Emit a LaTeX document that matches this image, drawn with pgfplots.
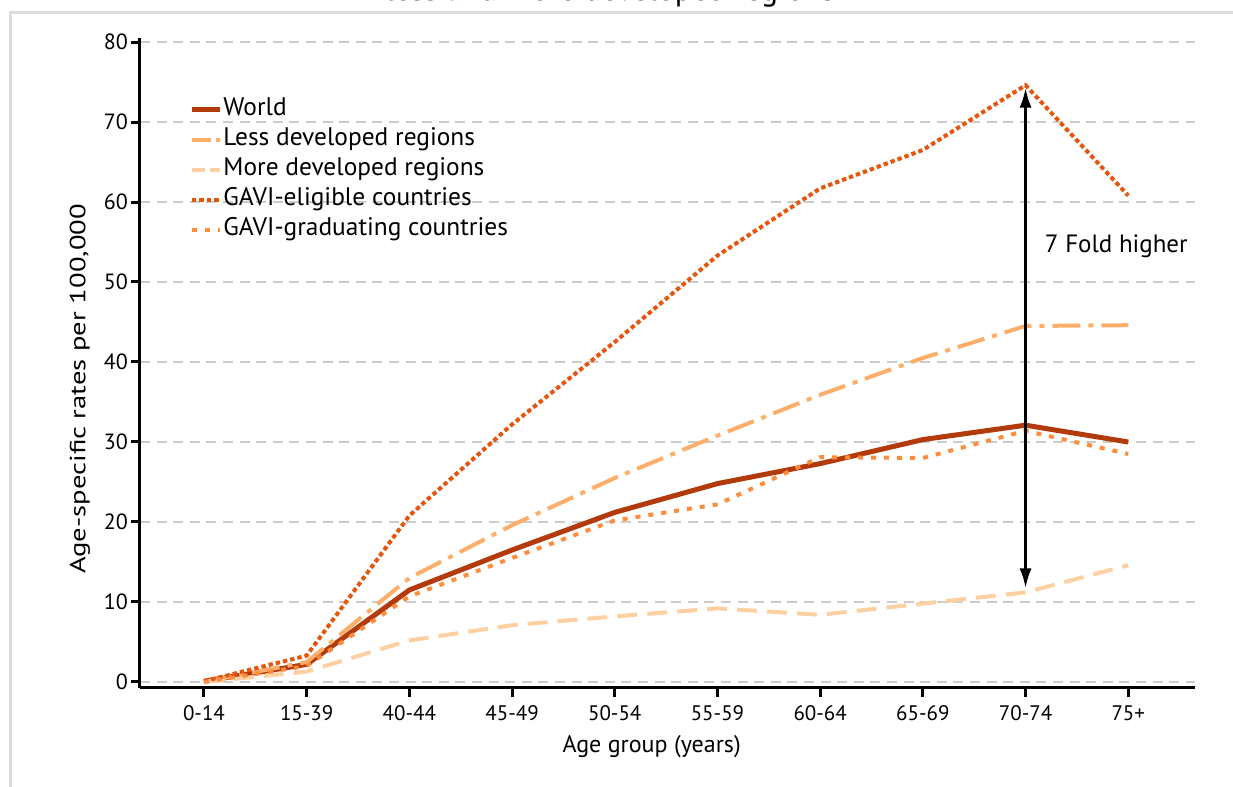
\documentclass[border=0pt]{standalone}
\usepackage{pgfplots}
\pgfplotsset{compat=1.18}
\usepackage{pgfplotstable}
\usepackage{fontspec}
\setmainfont{PT Sans}
\usetikzlibrary{arrows.meta}
\definecolor{cWorld}{HTML}{B33A0A}
\definecolor{cLess}{HTML}{FDAE6B}
\definecolor{cMore}{HTML}{FDD0A2}
\definecolor{cElig}{HTML}{E6550D}
\definecolor{cGrad}{HTML}{FD8D3C}
\definecolor{cGrid}{HTML}{CCCCCC}
\definecolor{cFrame}{HTML}{DCDCDC}
\pgfplotstableread{
x world less more elig grad
0 0.1 0.0 0.0 0.1 0.0
1 2.2 2.5 1.3 3.3 2.0
2 11.5 13.0 5.2 20.8 10.7
3 16.5 19.6 7.1 32.2 15.5
4 21.2 25.5 8.2 42.5 20.2
5 24.8 30.8 9.2 53.3 22.2
6 27.3 35.9 8.4 61.7 28.1
7 30.3 40.5 9.8 66.5 28.0
8 32.1 44.5 11.2 74.6 31.4
9 30.0 44.6 14.6 60.8 28.5
}\datatable
\begin{document}
\begin{tikzpicture}
\draw[cFrame, line width=1.5pt] (-64.5pt,-60pt) -- (-64.5pt,337.5pt) -- (560pt,337.5pt);
\node[font=\fontsize{16}{19}\selectfont, anchor=base] at (235pt,343.6pt) {less and more developed regions};
\begin{axis}[
  scale only axis,
  width=527.5pt, height=325pt,
  xmin=-0.623, xmax=9.65,
  ymin=-0.75, ymax=80.5,
  axis x line=bottom, axis y line=left,
  axis line style={-, line width=1.5pt, black},
  xtick={0,...,9},
  xticklabels={0-14,15-39,40-44,45-49,50-54,55-59,60-64,65-69,70-74,75+},
  ytick={0,10,...,80},
  tick align=outside,
  major tick length=4.5pt,
  tick style={line width=1.5pt, black},
  ymajorgrids,
  major grid style={cGrid, line width=1.2pt, dash pattern=on 5pt off 3.3pt},
  /pgf/number format/assume math mode=true,
  ticklabel style={font=\fontsize{10.5}{12}\selectfont},
  yticklabel style={font=\fontsize{11}{12}\selectfont, xshift=2pt},
  xticklabel style={yshift=-0.8pt},
  xlabel={Age group (years)},
  ylabel={\scalebox{1.3}[1]{Age-specific rates per 100,000}},
  xlabel style={font=\fontsize{12}{14}\selectfont, at={(axis description cs:0.485,-0.0908)}, anchor=center},
  ylabel style={font=\fontsize{11}{13}\selectfont, at={(axis description cs:-0.0569,0.46)}, anchor=center},
  legend style={at={(axis description cs:0.0465,0.909)}, anchor=north west,
    draw=none, fill=none, inner sep=0pt, row sep=3pt,
    font=\fontsize{12.7}{14}\selectfont,
    nodes={inner ysep=0pt, inner xsep=0.5pt, text height=9pt, text depth=3pt}},
  legend cell align=left,
  legend image code/.code={\draw[#1] (0pt,0pt) -- (14pt,0pt);},
]
\addplot[cWorld, line width=2.5pt] table[x=x,y=world] {\datatable};
\addlegendentry{World}
\addplot[cLess, line width=2pt, dash pattern=on 14pt off 4pt on 2.5pt off 4pt, forget plot] table[x=x,y=less] {\datatable};
\addlegendimage{cLess, line width=2pt, dash pattern=on 9.5pt off 2.5pt on 2pt off 2pt}
\addlegendentry{Less developed regions}
\addplot[cMore, line width=2pt, dash pattern=on 10pt off 5pt, forget plot] table[x=x,y=more] {\datatable};
\addlegendimage{cMore, line width=2pt, dash pattern=on 6.5pt off 2.5pt}
\addlegendentry{More developed regions}
\addplot[cElig, line width=2pt, dash pattern=on 2.2pt off 1.5pt] table[x=x,y=elig] {\datatable};
\addlegendentry{GAVI-eligible countries}
\addplot[cGrad, line width=2pt, dash pattern=on 2.5pt off 4pt] table[x=x,y=grad] {\datatable};
\addlegendentry{GAVI-graduating countries}
\draw[{Latex[length=10pt,width=6pt]}-{Latex[length=10pt,width=6pt]}, line width=1.5pt, black] (axis cs:8,74.3) -- (axis cs:8,11.7);
\node[anchor=west, font=\fontsize{12.5}{14}\selectfont] at (axis cs:8.12,54.5) {7 Fold higher};
\end{axis}
\pgfresetboundingbox
\useasboundingbox (-70pt,-49.5pt) rectangle (546.5pt,344pt);
\end{tikzpicture}
\end{document}
